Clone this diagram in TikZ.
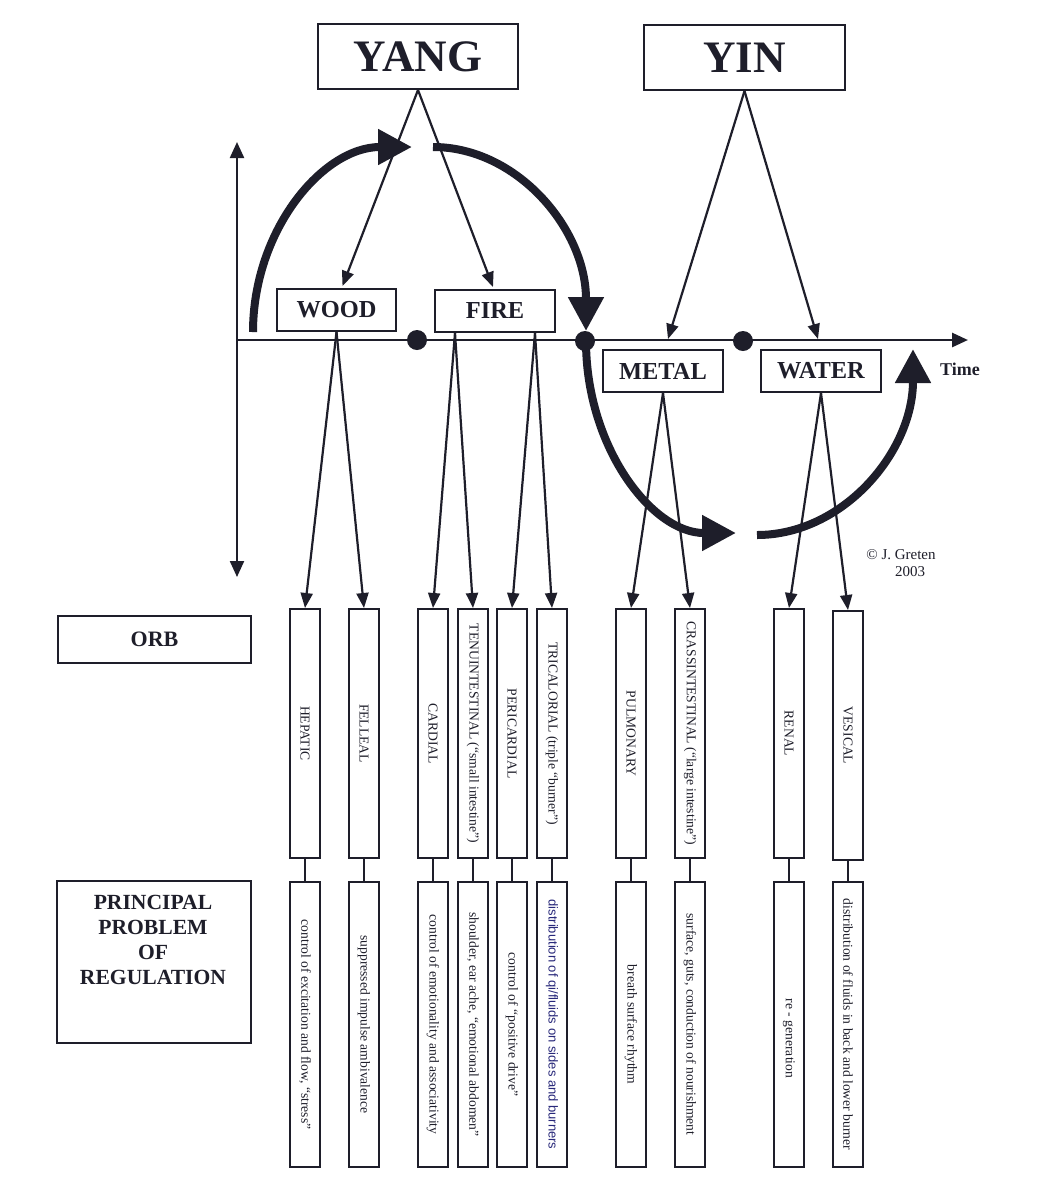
\documentclass[tikz,border=0pt]{standalone}
\usepackage{fontspec}
\setmainfont{Liberation Serif}
\newfontfamily\sansf{Liberation Sans}
\usetikzlibrary{arrows.meta,calc}
\definecolor{ink}{HTML}{1E1E2A}
\definecolor{inkb}{HTML}{28287A}
\begin{document}
\begin{tikzpicture}[x=0.5pt,y=-0.5pt,
  bx/.style={draw=ink, line width=1pt, fill=white, inner sep=0pt, text=ink},
  big/.style={font=\bfseries\fontsize{22.5}{24}\selectfont},
  mid/.style={font=\bfseries\fontsize{12.2}{14}\selectfont},
  vbox/.style={draw=ink, line width=1pt, fill=white, inner sep=0pt, minimum width=15pt},
  orbbox/.style={vbox, minimum height=124.5pt},
  probbox/.style={vbox, minimum height=142.5pt},
  vtxt/.style={rotate=-90, font=\fontsize{6.8}{7.5}\selectfont, text=ink, inner sep=0pt},
  vsans/.style={rotate=-90, font=\sansf\fontsize{6.5}{7.5}\selectfont, text=inkb, inner sep=0pt},
  thin/.style={draw=ink, line width=1.1pt, -{Triangle[length=7.5pt,width=6pt]}},
  link/.style={draw=ink, line width=1pt},
  bigarrow/.style={draw=ink, line width=4pt, -{Triangle[length=17pt,width=17pt]}},
  dot/.style={circle, fill=ink, inner sep=0pt, minimum size=10pt}]
\useasboundingbox (0,0) rectangle (1041,1191);
\fill[white] (0,0) rectangle (1041,1191);

% axes
\coordinate (o) at (237,340);
\coordinate (xend) at (968,340);
\coordinate (ytop) at (237,142);
\coordinate (ybot) at (237,577);
\draw[draw=ink, line width=1.4pt, -{Triangle[length=8pt,width=7pt]}] (o) -- (xend);
\draw[draw=ink, line width=1.1pt, {Triangle[length=8pt,width=7pt]}-{Triangle[length=8pt,width=7pt]}] (ytop) -- (ybot);
\node[text=ink, font=\bfseries\fontsize{9}{10}\selectfont] (time) at (960,369) {Time};

% top boxes
\node[bx, big, minimum width=100pt, minimum height=32.5pt] (yang) at (418,56.5) {YANG};
\node[bx, big, minimum width=100.5pt, minimum height=32.5pt] (yin) at (744.5,57.5) {YIN};
\node[bx, mid, minimum width=59.5pt, minimum height=21pt] (wood) at (336.5,310) {WOOD};
\node[bx, mid, minimum width=60pt, minimum height=21pt] (fire) at (495,311) {FIRE};
\node[bx, mid, minimum width=60pt, minimum height=21pt] (metal) at (663,371) {METAL};
\node[bx, mid, minimum width=60pt, minimum height=21pt] (water) at (821,371) {WATER};

% dots on the time axis
\node[dot] (d1) at (417,340) {};
\node[dot] (d2) at (585,341) {};
\node[dot] (d3) at (743,341) {};

% big arcs
\draw[bigarrow] (253,332) .. controls (253,230) and (323,147) .. (412,147);
\draw[bigarrow] (433,147) .. controls (517,147) and (586,229) .. (586,331);
\draw[bigarrow] (586,341) .. controls (586,447) and (652,533) .. (736,533);
\draw[bigarrow] (757,535) .. controls (843,535) and (913,452) .. (913,349);

% yang / yin to phases
\draw[thin] (yang.south) -- ($(wood.north)+(6,-2)$);
\draw[thin] (yang.south) -- ($(fire.north)+(-2,-2)$);
\draw[thin] (yin.south) -- ($(metal.north)+(5,-10)$);
\draw[thin] (yin.south) -- ($(water.north)+(-3,-10)$);

% left labels
\node[bx, font=\bfseries\fontsize{11}{12}\selectfont, minimum width=96.5pt, minimum height=23.5pt] (orb) at (154.5,639.5) {ORB};
\node[bx, minimum width=97pt, minimum height=81pt] (prin) at (154,962) {};
\node[text=ink, font=\bfseries\fontsize{10.8}{12.4}\selectfont, align=center] (printxt) at (153,940) {PRINCIPAL\\PROBLEM\\OF\\REGULATION};

% orb boxes
\node[orbbox] (hep) at (305,733.5) {};
\node[orbbox] (fel) at (364,733.5) {};
\node[orbbox] (car) at (433,733.5) {};
\node[orbbox] (ten) at (473,733.5) {};
\node[orbbox] (per) at (512,733.5) {};
\node[orbbox] (tri) at (552,733.5) {};
\node[orbbox] (pul) at (631,733.5) {};
\node[orbbox] (cra) at (690,733.5) {};
\node[orbbox] (ren) at (789,733.5) {};
\node[orbbox] (ves) at (848,735.5) {};
\node[vtxt] at (hep) {HEPATIC};
\node[vtxt] at (fel) {FELLEAL};
\node[vtxt] at (car) {CARDIAL};
\node[vtxt] at (ten) {TENUINTESTINAL (“small intestine”)};
\node[vtxt] at (per) {PERICARDIAL};
\node[vtxt] at (tri) {TRICALORIAL (triple “burner”)};
\node[vtxt] at (pul) {PULMONARY};
\node[vtxt] at (cra) {CRASSINTESTINAL (“large intestine”)};
\node[vtxt] at (ren) {RENAL};
\node[vtxt] at (ves) {VESICAL};

% problem boxes
\node[probbox] (phep) at (305,1024.5) {};
\node[probbox] (pfel) at (364,1024.5) {};
\node[probbox] (pcar) at (433,1024.5) {};
\node[probbox] (pten) at (473,1024.5) {};
\node[probbox] (pper) at (512,1024.5) {};
\node[probbox] (ptri) at (552,1024.5) {};
\node[probbox] (ppul) at (631,1024.5) {};
\node[probbox] (pcra) at (690,1024.5) {};
\node[probbox] (pren) at (789,1024.5) {};
\node[probbox] (pves) at (848,1024.5) {};
\node[vtxt] at (phep) {control of excitation and flow, “stress”};
\node[vtxt] at (pfel) {suppressed impulse ambivalence};
\node[vtxt] at (pcar) {control of emotionality and associativity};
\node[vtxt] at (pten) {shoulder, ear ache, “emotional abdomen”};
\node[vtxt] at (pper) {control of “positive drive”};
\node[vsans] at (ptri) {distribution of qi/fluids on sides and burners};
\node[vtxt] at (ppul) {breath surface rhythm};
\node[vtxt] at (pcra) {surface, guts, conduction of nourishment};
\node[vtxt] at ($(pren)+(0,14)$) {re - generation};
\node[vtxt] at (pves) {distribution of fluids in back and lower burner};

% phases to orbs
\draw[thin] (wood.south) -- (hep.north);
\draw[thin] (wood.south) -- (fel.north);
\draw[thin] ($(fire.south)+(-40,0)$) -- (car.north);
\draw[thin] ($(fire.south)+(-40,0)$) -- (ten.north);
\draw[thin] ($(fire.south)+(40,0)$) -- (per.north);
\draw[thin] ($(fire.south)+(40,0)$) -- (tri.north);
\draw[thin] (metal.south) -- (pul.north);
\draw[thin] (metal.south) -- (cra.north);
\draw[thin] (water.south) -- (ren.north);
\draw[thin] (water.south) -- (ves.north);

% orb to problem links
\foreach \a/\b in {hep/phep,fel/pfel,car/pcar,ten/pten,per/pper,tri/ptri,pul/ppul,cra/pcra,ren/pren,ves/pves}
  \draw[link] (\a.south) -- (\b.north);

% copyright
\node[text=ink, font=\fontsize{7.5}{8.5}\selectfont, align=center] (copy) at (901,563) {© J. Greten\\\hspace*{1.2em}2003};
\end{tikzpicture}
\end{document}
